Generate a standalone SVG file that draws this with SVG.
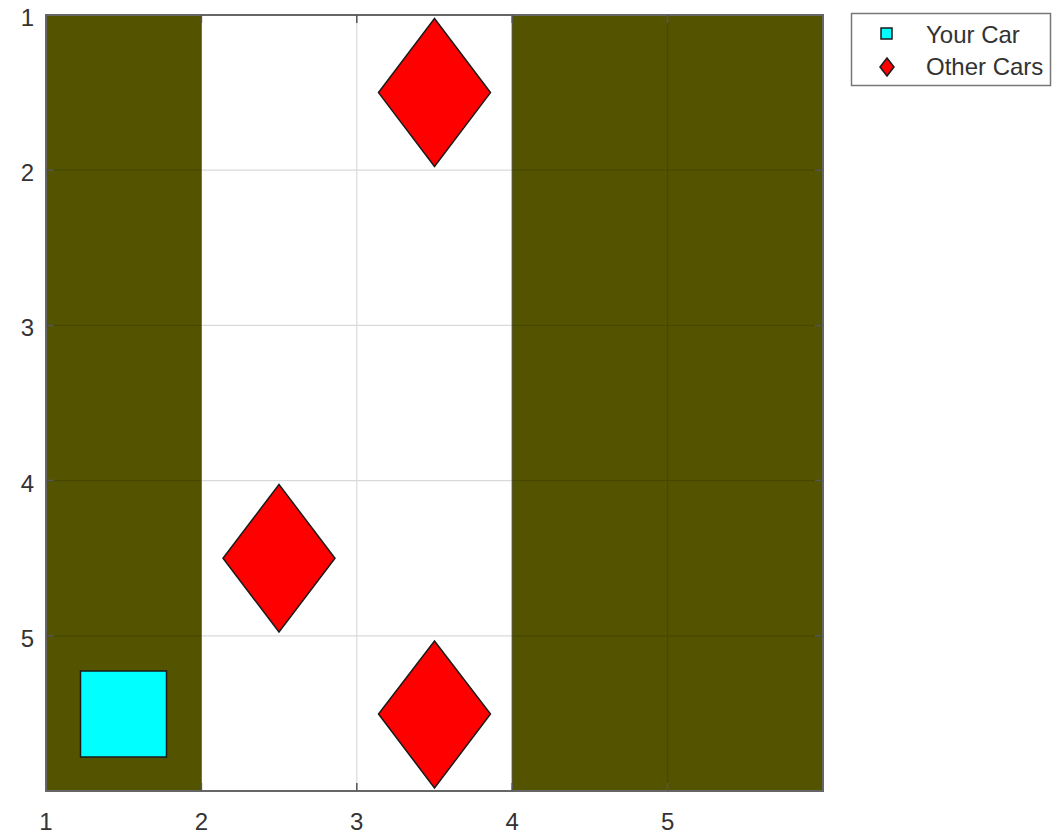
<svg xmlns="http://www.w3.org/2000/svg" width="1054" height="835" viewBox="0 0 1054 835">
<style>
.lbl{font-family:"Liberation Sans",Arial,sans-serif;font-size:24px;fill:#333}
.grid{stroke:#000;stroke-opacity:0.15;stroke-width:1.2;fill:none}
.ax{stroke:#666;stroke-width:2;fill:none}
.tick{stroke:#555;stroke-width:1.5;fill:none}
.olive{fill:#545400;stroke:#777;stroke-width:0.8}
.car{fill:#00ffff;stroke:#1a1a1a;stroke-width:1.5}
.other{fill:#ff0000;stroke:#1a1a1a;stroke-width:1.5}
</style>
<rect width="1054" height="835" fill="#fff"/>
<g id="road">
<rect class="olive" x="46" y="15" width="155.4" height="776"/>
<rect class="olive" x="512" y="15" width="311" height="776"/>
</g>
<g id="grid">
<path class="grid" d="M201.4 15V791M356.8 15V791M512.2 15V791M667.6 15V791M46 170.2H823M46 325.4H823M46 480.6H823M46 635.8H823"/>
</g>
<g id="axes">
<rect class="ax" x="46" y="15" width="777" height="776"/>
<path class="tick" d="M46 170.2h8M46 325.4h8M46 480.6h8M46 635.8h8M823 170.2h-8M823 325.4h-8M823 480.6h-8M823 635.8h-8M201.4 791v-8M356.8 791v-8M512.2 791v-8M667.6 791v-8M201.4 15v8M356.8 15v8M512.2 15v8M667.6 15v8"/>
<g class="lbl" text-anchor="end">
<text x="34" y="26">1</text>
<text x="34" y="181">2</text>
<text x="34" y="336">3</text>
<text x="34" y="492">4</text>
<text x="34" y="647">5</text>
</g>
<g class="lbl" text-anchor="middle">
<text x="46" y="830">1</text>
<text x="201.4" y="830">2</text>
<text x="356.8" y="830">3</text>
<text x="512.2" y="830">4</text>
<text x="667.6" y="830">5</text>
</g>
</g>
<g id="your-car">
<rect class="car" x="80.5" y="671" width="86" height="86"/>
</g>
<g id="other-car-1">
<polygon class="other" points="434.5,18.5 490.5,92.6 434.5,166.5 378.5,92.6"/>
</g>
<g id="other-car-2">
<polygon class="other" points="279,484.5 335,558.2 279,632 223,558.2"/>
</g>
<g id="other-car-3">
<polygon class="other" points="434.5,641 490.5,714 434.5,788 378.5,714"/>
</g>
<g id="legend">
<rect x="851.5" y="13.5" width="199" height="72" fill="#fff" stroke="#777" stroke-width="1.5"/>
<rect class="car" x="881" y="28" width="11" height="11" stroke-width="1.2"/>
<polygon class="other" points="887,58 894,67 887,76 880,67" stroke-width="1.2"/>
<text class="lbl" x="926" y="43">Your Car</text>
<text class="lbl" x="926" y="75">Other Cars</text>
</g>
</svg>
